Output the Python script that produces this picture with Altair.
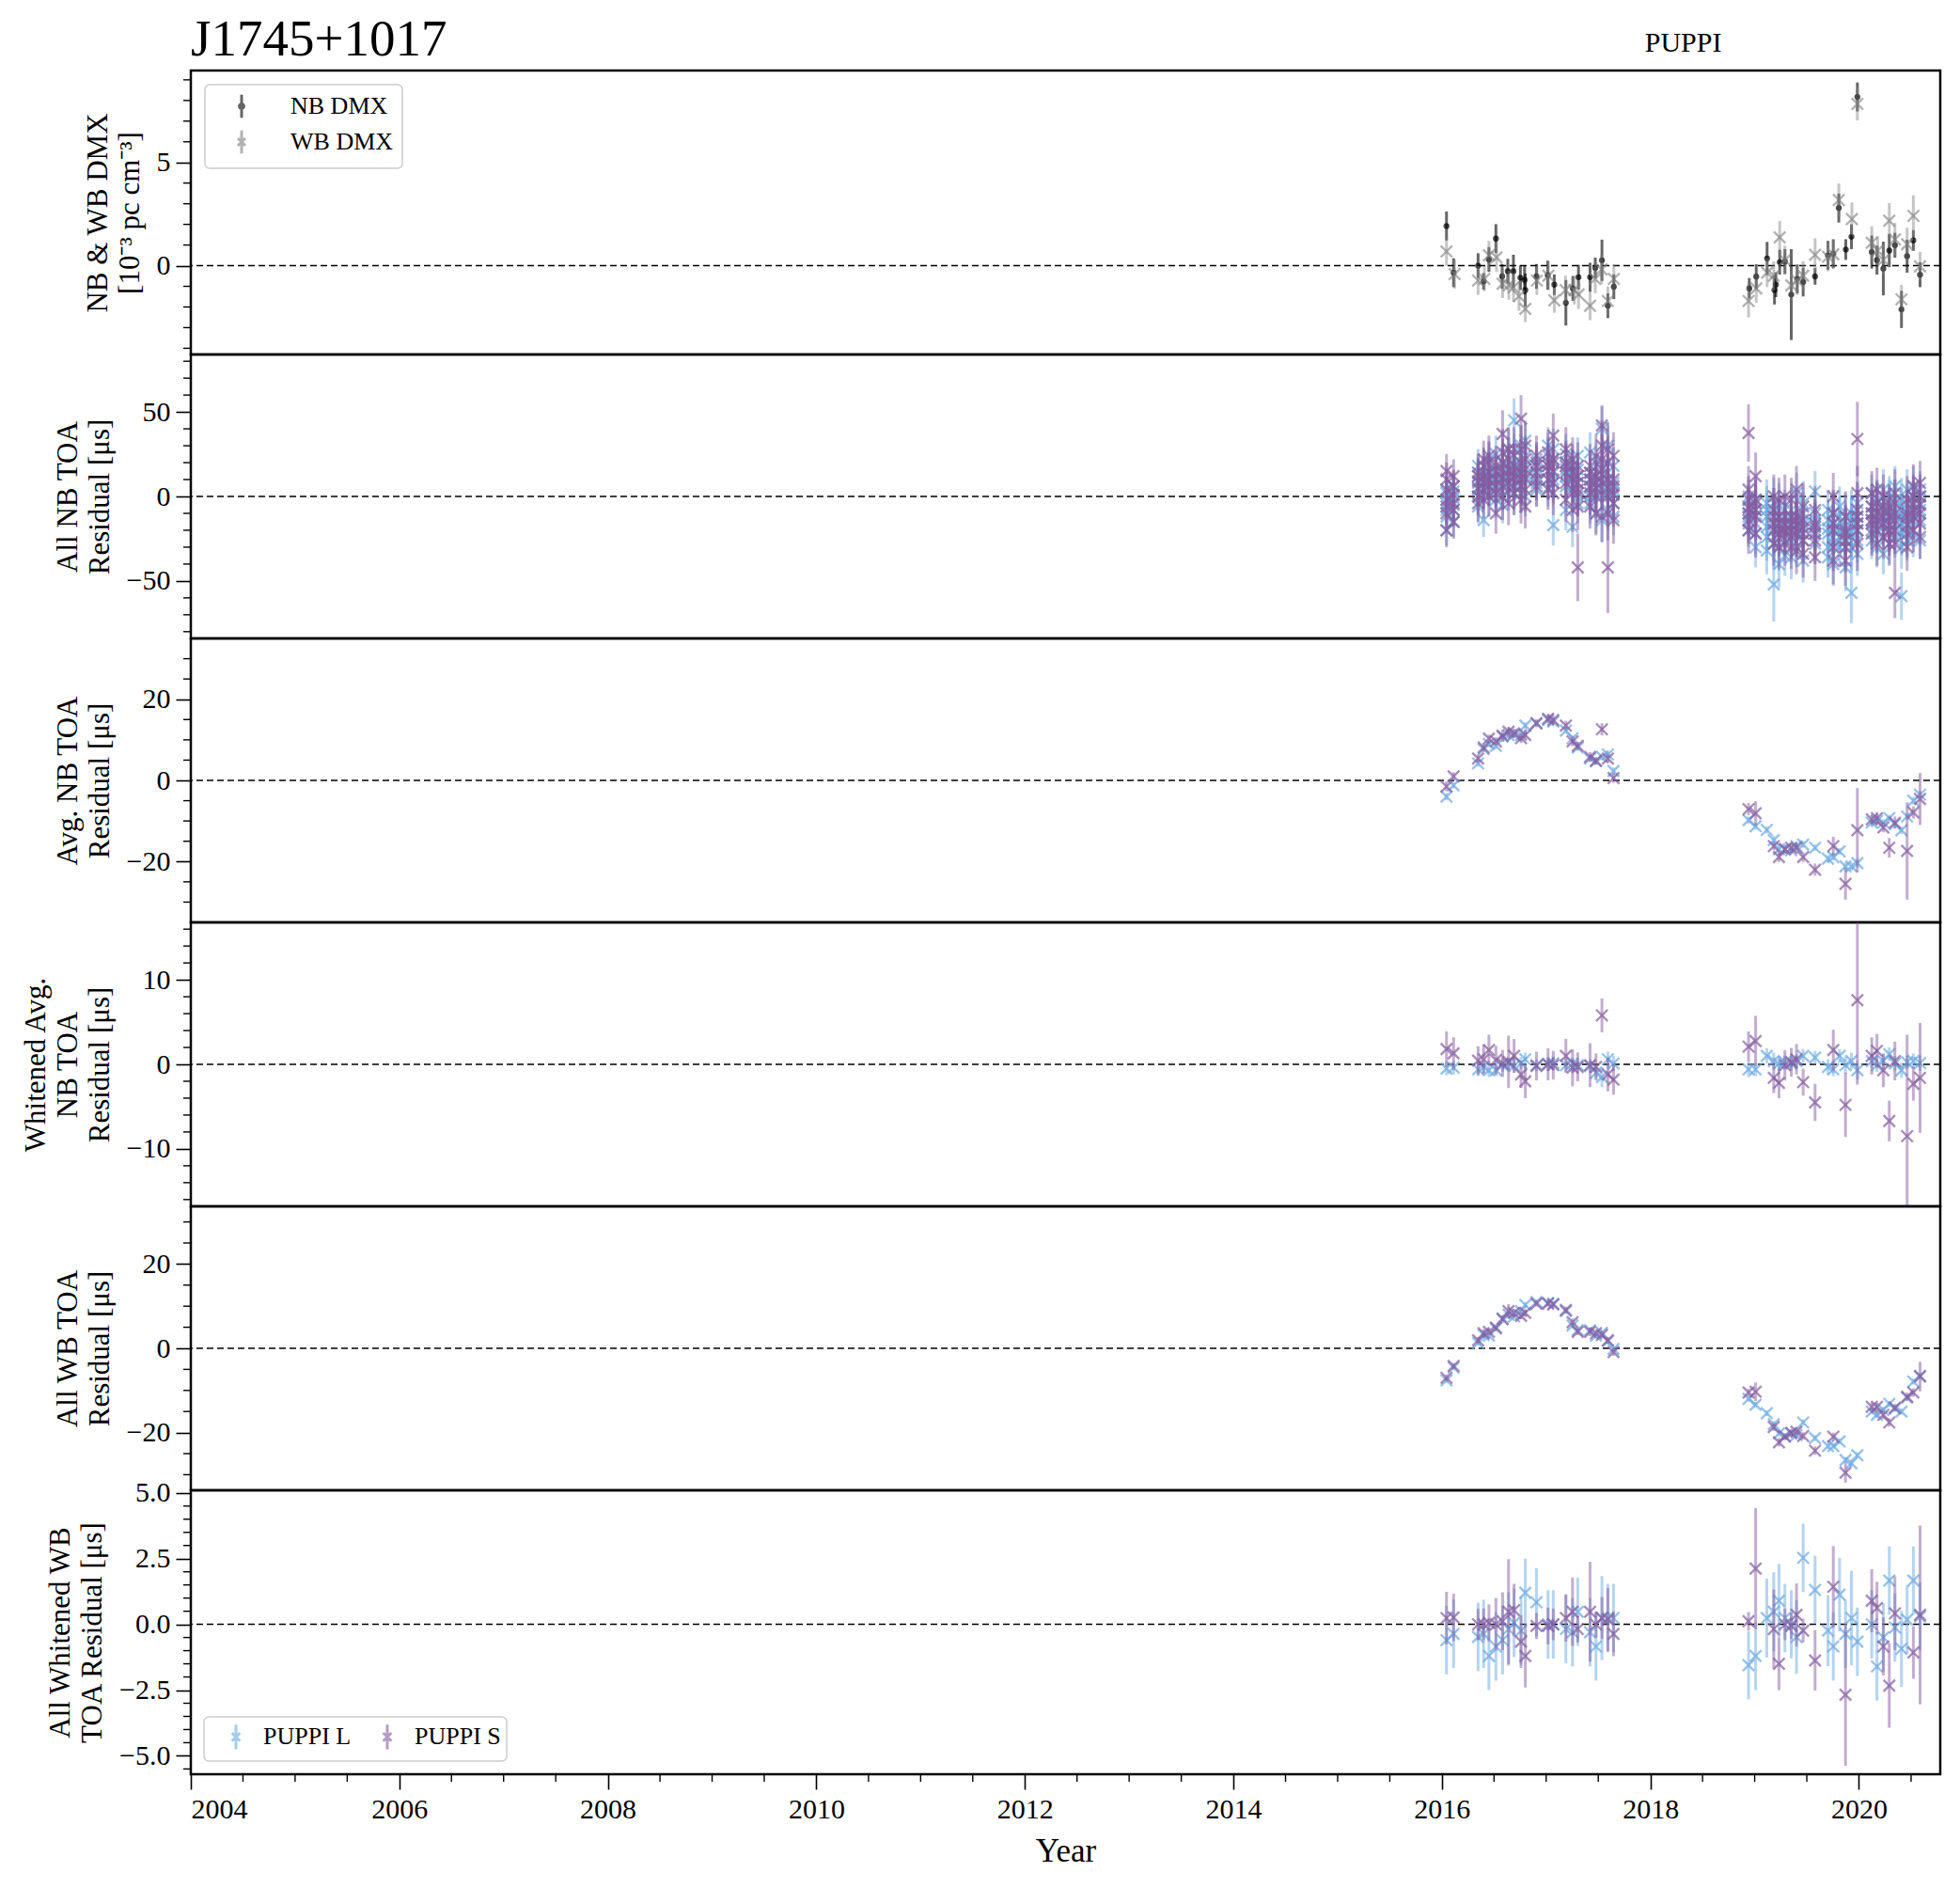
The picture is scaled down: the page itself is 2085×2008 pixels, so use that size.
import altair as alt
import pandas as pd

FONT = "Liberation Serif"
X_MIN, X_MAX = 2004.0, 2020.78
PLOT_W, PANEL_H = 1861, 302
COLOR_L, COLOR_S = "#6BA9E2", "#855CA0"
RCVRS = ["PUPPI L", "PUPPI S"]
DMX_SERIES = ["NB DMX", "WB DMX"]
PSR = "J1745+1017"
BACKEND = "PUPPI"

X_MARK = "M-1,-1L1,1M-1,1L1,-1"
LEG_DOT = "M0,-1V1M0.2,0A0.2,0.2,0,1,1,-0.2,0A0.2,0.2,0,1,1,0.2,0"
LEG_X = "M0,-1V1M-0.33,-0.33L0.33,0.33M-0.33,0.33L0.33,-0.33"

# ---------------- DMX (panel 1) ----------------
NB_DMX_YEAR = [2016.044, 2016.112, 2016.347, 2016.400, 2016.451, 2016.518, 2016.578, 2016.632, 2016.686,
               2016.753, 2016.793, 2016.800, 2016.907, 2017.015, 2017.078, 2017.189, 2017.256, 2017.310,
               2017.421, 2017.471, 2017.535, 2017.592, 2017.649,
               2018.948, 2019.015, 2019.119, 2019.190, 2019.203, 2019.240, 2019.290, 2019.351, 2019.408,
               2019.465, 2019.579, 2019.703, 2019.754, 2019.807, 2019.874, 2019.928, 2019.985, 2020.123,
               2020.173, 2020.234, 2020.291, 2020.345, 2020.408, 2020.462, 2020.522, 2020.586]
NB_DMX_VAL = [1.92, -0.34, 0.0, -0.76, 0.30, 1.31, -0.52, -0.27, -0.27, -0.58, -0.69, -1.18, -0.52, -0.46,
              -0.92, -1.80, -1.10, -0.56, -0.56, -0.11, 0.26, -1.94, -1.02,
              -1.10, -0.53, 0.35, -1.18, -0.92, 0.17, 0.20, -1.40, -0.64, -0.79, -0.52, 0.50, 0.58, 2.79,
              0.78, 1.40, 8.17, 0.66, 0.27, -0.14, 0.73, 0.99, -2.12, 0.46, 1.22, -0.44]
NB_DMX_ERR = [0.7, 0.7, 0.6, 0.4, 0.6, 0.7, 0.6, 0.6, 0.8, 0.6, 0.7, 0.8, 0.6, 0.7, 0.5, 1.1, 0.6, 0.6,
              0.7, 0.5, 1.0, 0.6, 0.6,
              0.5, 0.6, 0.8, 0.7, 0.6, 0.6, 0.6, 2.2, 0.7, 0.7, 0.4, 0.7, 0.7, 0.7, 0.5, 0.6, 0.7, 0.8,
              0.7, 1.3, 0.8, 0.6, 0.9, 0.8, 0.5, 0.6]
WB_DMX_YEAR = [2016.044, 2016.122, 2016.347, 2016.407, 2016.451, 2016.524, 2016.582, 2016.642, 2016.686,
               2016.739, 2016.800, 2016.911, 2017.021, 2017.078, 2017.186, 2017.270, 2017.310, 2017.421,
               2017.471, 2017.532, 2017.592, 2017.649,
               2018.941, 2019.015, 2019.119, 2019.183, 2019.240, 2019.290, 2019.351, 2019.408, 2019.465,
               2019.579, 2019.703, 2019.754, 2019.807, 2019.932, 2019.985, 2020.123, 2020.180, 2020.234,
               2020.291, 2020.345, 2020.408, 2020.462, 2020.522, 2020.586]
WB_DMX_VAL = [0.69, -0.41, -0.72, -0.64, 0.50, 0.40, -0.87, -0.95, -1.05, -1.48, -2.09, -0.72, -0.49,
              -1.68, -1.18, -1.18, -1.40, -1.94, -0.64, -0.18, -1.71, -0.64,
              -1.71, -1.10, -0.34, -0.49, 1.37, 0.27, -0.95, -0.72, -0.49, 0.53, 0.43, 0.55, 3.18, 2.26,
              7.83, 1.11, 0.73, 0.27, 2.18, 1.27, -1.63, 1.04, 2.41, -0.03]
WB_DMX_ERR = [0.7, 0.7, 0.7, 0.6, 0.7, 0.7, 0.7, 0.7, 0.7, 0.7, 0.65, 0.7, 0.7, 0.6, 0.7, 0.7, 0.7, 0.7,
              0.7, 0.7, 0.7, 0.7,
              0.8, 0.7, 0.7, 0.7, 0.8, 0.7, 0.7, 0.7, 0.7, 0.8, 0.7, 0.7, 0.8, 0.8, 0.8, 0.8, 0.7, 0.7,
              0.85, 0.8, 0.7, 0.8, 1.0, 0.7]

# ---------------- Epochs for TOA panels ----------------
EPOCHS = [2016.044, 2016.112, 2016.347, 2016.400, 2016.451, 2016.518, 2016.582, 2016.639, 2016.692,
          2016.759, 2016.800, 2016.907, 2017.018, 2017.068, 2017.189, 2017.253, 2017.303, 2017.421,
          2017.478, 2017.535, 2017.592, 2017.646,
          2018.941, 2019.009, 2019.116, 2019.183, 2019.233, 2019.290, 2019.351, 2019.401, 2019.465,
          2019.579, 2019.703, 2019.754, 2019.814, 2019.871, 2019.928, 2019.985, 2020.123, 2020.173,
          2020.234, 2020.291, 2020.345, 2020.408, 2020.462, 2020.522, 2020.586]

# Panel 2: all NB TOA residuals (us), several TOAs per epoch
NB_ALL_L = [[-4, -12, 3, -20, -8, 2], [-1, -8, 6, -15, 3, -5], [4, -6, 12, 18, 8, 0], [8, -14, 14, 2, 10, 5],
            [9, 0, 16, 22, 6, 12], [8, -2, 15, 25, 12, 4], [11, 3, 20, -5, 14, 8], [11, 28, 4, 18, 8, 14],
            [11, 20, 2, 16, 8, 24], [11, 30, 6, 18, 14, 2], [13, 24, 0, 33, 10, 18], [14, 22, 8, 18, 12, 4],
            [15, 30, 5, 24, 18, 10], [14, -17, 22, 8, 10, 28], [12, -8, 20, 25, 6, 16], [10, 2, 16, -18, 12, 6],
            [8, 16, 0, 24, 12, -4], [5, 26, -4, 14, 10, 0], [5, 20, -10, 12, 8, 2], [6, 40, -14, 18, 10, 0],
            [6, 30, -8, 14, 2, 10], [2, 18, -12, 8, -4, 4],
            [-10, -20, 0, -16, -6, -12], [-11, -2, -22, -30, -16, -8], [-12, -4, -24, -32, -18, -8],
            [-15, -28, -4, -20, -10, -24], [-17, -40, -6, -30, -12, -22], [-17, -24, -8, -35, -14, -20],
            [-17, -12, -26, -36, -20, -8], [-16, 2, -30, -24, -12, -20], [-16, -4, -26, -38, -18, -10],
            [-17, -10, 3, -28, -20, -14], [-19, -8, -30, -36, -22, -14], [-19, -10, -28, -40, -16, -24],
            [-18, -6, -30, -24, -12, -20], [-21, -30, -12, -42, -18, -26], [-21, -10, -30, -14, -24, -18],
            [-20, -4, -34, -26, -16, -12], [-10, 2, -20, -26, -14, -6], [-10, -2, -22, -30, -16, -4],
            [-10, 4, -18, -34, -6, -14], [-9, 0, -20, -28, -12, -4], [-11, -2, -24, 6, -16, -8],
            [-12, -2, -22, -30, -8, -16], [-9, 4, -20, -26, -14, -4], [-5, 6, -14, -24, -10, 0],
            [-4, 4, -14, -26, -8, 0]]
NB_ALL_L_ERR = [9, 9, 10, 10, 11, 11, 11, 12, 13, 12, 12, 10, 11, 12, 12, 12, 11, 12, 12, 13, 12, 11,
                10, 12, 14, 15, 14, 12, 13, 12, 13, 12, 12, 13, 12, 14, 14, 13, 11, 12, 12, 12, 12, 13,
                12, 12, 11]
NB_ALL_S = [[-2, 10, -10, 15, -20, -6, 4], [1, 12, -8, -15, -4, 6], [5, 14, -4, 12, 0, 9], [8, 18, -2, 22, 4, 12],
            [10, 20, 0, 24, 6, 14], [10, -10, 18, 2, 6, 14], [11, 0, 20, 26, 6, 16], [12, 22, -4, 28, 8, 16],
            [12, 28, 2, 14, 6, 18], [10, -2, 20, 28, 6, 14], [11, 30, -6, 22, 4, 16], [14, 24, 6, 20, 10, 18],
            [15, 26, 4, 20, 10, 18], [15, 36, 2, 22, 8, 20], [14, 28, -2, 20, 8, 18], [10, 22, -8, 18, 4, 14],
            [8, 18, 2, -6, 12, 4], [6, 18, -6, 14, 2, 10], [5, 24, -10, 12, 0, 8], [13, -12, 22, 30, 8, 16],
            [5, 20, -10, 28, 0, 10], [1, 24, -14, 10, -4, 6],
            [-7, -14, 4, -20, -10, -2], [-8, 12, -22, -2, -12, -4], None, [-16, 0, -28, -8, -20, -12],
            [-19, -2, -30, -12, -22, -16], [-17, 0, -28, -22, -20, -12], [-17, -2, -30, -24, -20, -12],
            [-17, 4, -32, -12, -22, -14], [-19, -6, -34, -26, -22, -14], [-22, -8, -36, -16, -26, -18], None,
            [-16, 0, -30, -38, -20, -10], None, [-26, -12, -38, -20, -30, -22], None,
            [-12, -28, -16, 2, -20, -8], [-10, 2, -22, -16, -14, -6], [-9, 4, -20, -28, -14, -4],
            [-12, 0, -24, -8, -16, -6], [-17, -6, -28, -20, -22, -12], [-10, 2, -20, -28, -14, -4], None,
            [-17, -2, -30, -10, -22, -12], [-8, 6, -20, 0, -12, -4], [-5, 8, -16, -24, -10, 0]]
NB_ALL_S_ERR = [10, 10, 11, 11, 12, 12, 14, 13, 13, 14, 13, 12, 12, 13, 13, 13, 14, 13, 13, 15, 16, 14,
                14, 14, None, 13, 13, 13, 13, 14, 14, 14, None, 14, None, 15, None, 16, 13, 13, 13, 13,
                14, None, 14, 13, 13]
NB_ALL_OUT_YEAR = [2016.692, 2019.183, 2019.928, 2020.408, 2016.582, 2016.759, 2017.303, 2017.535,
                   2017.592, 2018.941, 2019.985, 2020.345]
NB_ALL_OUT_RCVR = ["PUPPI L", "PUPPI L", "PUPPI L", "PUPPI L", "PUPPI S", "PUPPI S", "PUPPI S",
                   "PUPPI S", "PUPPI S", "PUPPI S", "PUPPI S", "PUPPI S"]
NB_ALL_OUT_VAL = [45, -52, -57, -59, 37, 46, -42, 42, -42, 37.5, 34, -57]
NB_ALL_OUT_ERR = [13, 22, 18, 14, 14, 14, 20, 12, 27, 17, 22, 15]

# Panel 3: averaged NB residuals
AVG_NB_L = [-4.0, -1.2, 4.2, 7.7, 9.0, 8.5, 10.8, 11.2, 11.3, 11.2, 13.5, 14.1, 14.9, 14.5, 12.3, 10.4,
            8.1, 5.4, 4.8, 5.8, 6.4, 2.3,
            -9.8, -11.3, -12.2, -14.7, -17.0, -17.0, -17.2, -16.2, -15.8, -16.6, -19.3, -18.9, -17.5,
            -21.2, -21.2, -20.4, -10.4, -10.0, -10.4, -9.3, -10.8, -12.3, -8.9, -5.0, -3.5]
AVG_NB_L_ERR = [0.9, 0.8, 0.8, 0.7, 0.8, 0.7, 0.8, 0.7, 0.8, 0.7, 0.8, 0.7, 0.7, 0.8, 0.8, 0.7, 0.8,
                0.8, 0.7, 0.8, 0.9, 0.9,
                0.9, 0.8, 0.9, 1.0, 0.9, 0.8, 0.8, 0.8, 0.8, 0.8, 0.9, 0.8, 0.8, 1.0, 1.0, 1.1, 0.8,
                0.8, 0.8, 0.8, 0.9, 0.9, 0.8, 0.9, 0.9]
AVG_NB_S = [-1.5, 1.0, 5.4, 8.1, 10.3, 9.6, 11.0, 12.0, 11.6, 10.4, 11.2, 14.1, 15.2, 14.9, 13.5, 9.6,
            8.5, 5.8, 4.8, 12.6, 5.4, 0.6,
            -7.1, -8.1, None, -16.2, -18.9, -17.0, -16.6, -16.6, -18.9, -22.0, None, -16.2, None,
            -25.5, None, -12.3, -9.6, -9.3, -11.6, -16.6, -10.4, None, -17.4, -7.9, -4.6]
AVG_NB_S_ERR = [1.2, 1.0, 1.0, 1.0, 1.0, 1.0, 1.5, 1.2, 1.0, 1.2, 1.2, 1.0, 1.0, 1.0, 1.2, 1.2, 1.0,
                1.2, 1.0, 1.5, 1.2, 1.2,
                1.5, 3.0, None, 1.0, 1.2, 1.0, 1.2, 1.0, 1.2, 1.5, None, 2.3, None, 3.9, None, 10.4,
                1.2, 1.5, 1.2, 2.4, 1.5, None, 12.0, 1.5, 6.4]

# Panel 4: whitened averaged NB residuals
WAVG_NB_L = [-0.5, -0.4, -0.6, -0.3, -0.7, -0.7, -0.1, 0.1, -0.2, 0.15, 0.6, -0.1, 0.1, 0.15, -0.1,
             0.1, -0.1, -0.2, -1.0, -1.5, 0.6, 0.1,
             -0.6, -0.6, 1.0, 0.4, 0.1, 0.25, 0.1, 0.4, 1.0, 0.8, -0.3, -0.6, 1.0, -0.1, 0.4, -0.7,
             0.4, -0.1, 0.4, 1.2, 0.1, -0.7, 0.25, 0.4, 0.15]
WAVG_NB_L_ERR = [0.8, 0.8, 0.8, 0.7, 0.8, 0.7, 0.8, 0.7, 0.8, 0.7, 0.8, 0.7, 0.7, 0.8, 0.8, 0.7, 0.8,
                 0.8, 0.7, 1.2, 0.9, 0.9,
                 0.9, 0.8, 0.9, 1.0, 0.9, 0.8, 0.8, 0.8, 0.8, 0.8, 0.9, 0.8, 0.8, 1.0, 1.0, 1.1, 0.8,
                 0.8, 0.8, 0.8, 0.9, 0.9, 0.8, 0.9, 0.9]
WAVG_NB_S = [1.8, 1.3, 0.45, 0.6, 1.7, 0.5, 0.1, 0.3, 1.0, -1.2, -2.0, -0.2, 0.0, -0.1, 1.0, -0.4,
             -0.3, -0.1, -0.3, 5.8, -1.2, -1.8,
             2.1, 2.75, None, -1.6, -2.2, -0.1, 0.25, 0.6, -2.1, -4.5, None, 1.7, None, -4.8, None,
             7.6, 1.0, 1.6, -0.7, -6.7, 0.4, None, -8.5, -2.3, -1.6]
WAVG_NB_S_ERR = [2.1, 1.9, 1.7, 1.7, 1.8, 1.7, 1.6, 3.1, 2.0, 1.6, 2.0, 1.7, 1.9, 1.7, 2.0, 2.2, 1.7,
                 2.6, 1.6, 2.0, 2.0, 1.8,
                 1.8, 3.0, None, 1.8, 1.8, 1.8, 1.7, 1.8, 1.6, 2.2, None, 2.4, None, 3.8, None, 10.0,
                 2.2, 2.0, 2.0, 2.4, 2.3, None, 12.0, 2.0, 6.5]

# Panel 5: all WB residuals
WB_L = [-7.6, -4.6, 1.3, 3.2, 3.0, 4.7, 7.1, 8.0, 7.6, 8.8, 10.3, 11.0, 10.8, 10.6, 8.8, 5.4, 4.3,
        4.3, 3.0, 3.7, 1.7, -0.15,
        -12.0, -13.4, -15.4, -18.0, -20.2, -20.8, -20.2, -20.6, -17.6, -21.3, -23.2, -23.2, -22.1,
        -26.5, -27.3, -25.4, -15.0, -15.8, -14.6, -13.2, -14.3, -15.0, -11.7, -7.9, -6.5]
WB_L_ERR = [0.6, 0.6, 0.6, 0.6, 0.6, 0.6, 0.6, 0.7, 0.6, 0.6, 0.6, 0.6, 0.6, 0.6, 0.6, 0.6, 0.6, 0.6,
            0.6, 0.6, 0.6, 0.6,
            0.7, 0.7, 0.7, 0.7, 0.7, 0.6, 0.6, 0.6, 0.7, 0.7, 0.7, 0.7, 0.7, 0.7, 0.8, 0.7, 0.7, 0.7,
            0.7, 0.7, 0.7, 0.7, 0.7, 0.7, 0.7]
WB_S = [-7.0, -4.2, 1.9, 3.6, 3.9, 4.9, 6.9, 8.8, 8.4, 7.7, 8.4, 10.6, 10.6, 10.4, 9.1, 6.2, 3.9, 3.9,
        3.6, 3.2, 1.9, -0.9,
        -10.5, -10.3, None, -18.7, -22.3, -21.0, -20.1, -19.8, -20.8, -24.3, None, -21.0, None, -29.5,
        None, None, -13.9, -13.9, -15.8, -17.6, -14.1, None, -11.5, -10.5, -6.7]
WB_S_ERR = [0.8, 0.7, 0.8, 0.8, 0.8, 0.8, 0.9, 1.7, 0.9, 0.8, 0.8, 0.7, 0.7, 0.7, 0.8, 0.9, 0.8, 1.0,
            0.7, 0.8, 0.8, 0.9,
            0.9, 2.2, None, 0.9, 1.0, 0.8, 0.8, 0.8, 0.9, 1.0, None, 1.0, None, 2.4, None, None, 1.0,
            0.9, 0.9, 1.0, 0.9, None, 1.0, 1.0, 3.5]

# Panel 6: whitened WB residuals
WWB_L = [-0.6, -0.36, -0.48, -0.36, -1.2, -0.84, -0.6, -0.18, 0.06, -0.24, 1.2, 0.84, 0.0, 0.0, -0.18,
         -0.3, 0.48, -0.3, -0.84, 0.24, 0.24, 0.24,
         -1.55, -1.2, 0.24, 0.48, 0.9, 0.24, 0.0, -0.48, 2.53, 1.31, -0.24, -0.84, 1.13, -0.36, 0.24,
         -0.66, 0.0, -1.6, -0.5, 1.67, -0.12, -0.93, 0.18, 1.67, 0.3]
WWB_L_ERR = [1.3, 1.3, 1.3, 1.3, 1.3, 1.3, 1.3, 1.4, 1.3, 1.3, 1.3, 1.3, 1.3, 1.3, 1.3, 1.3, 1.3, 1.3,
             1.3, 1.6, 1.3, 1.3,
             1.3, 1.3, 1.5, 1.5, 1.4, 1.3, 1.3, 1.4, 1.3, 1.3, 1.35, 1.3, 1.4, 1.3, 1.8, 1.3, 1.3, 1.3,
             1.3, 1.3, 1.3, 1.45, 1.3, 1.3, 1.3]
WWB_S = [0.24, 0.26, 0.0, 0.0, 0.06, 0.0, 0.12, 0.48, 0.54, -0.66, -1.2, -0.06, -0.06, 0.0, 0.24, 0.48,
         -0.18, 0.48, 0.0, 0.24, 0.18, -0.36,
         0.12, 2.12, None, -0.18, -1.5, 0.0, -0.06, 0.36, -0.24, -1.37, None, 1.43, None, -2.68, None,
         None, 0.9, 0.62, -0.84, -2.33, 0.42, None, None, -1.07, 0.36]
WWB_S_ERR = [1.0, 0.9, 0.6, 0.6, 0.7, 1.0, 1.1, 2.0, 1.0, 1.0, 1.2, 0.5, 0.7, 0.6, 0.9, 1.3, 0.5, 1.9,
             0.5, 0.8, 1.2, 0.85,
             0.35, 2.3, None, 1.5, 1.0, 0.6, 0.5, 1.2, 0.45, 1.15, None, 1.55, None, 2.7, None, None,
             1.2, 1.0, 1.1, 1.6, 1.4, None, None, 1.0, 3.4]

# axis ticks
X_MAJOR = [2004, 2006, 2008, 2010, 2012, 2014, 2016, 2018, 2020]
X_MINOR_STEP = 0.5
Y1_MAJOR, Y1_MINOR_STEP = [0, 5], 1
Y2_MAJOR, Y2_MINOR_STEP = [-50, 0, 50], 10
Y3_MAJOR, Y3_MINOR_STEP = [-20, 0, 20], 5
Y4_MAJOR, Y4_MINOR_STEP = [-10, 0, 10], 2
Y5_MAJOR, Y5_MINOR_STEP = [-20, 0, 20], 5
Y6_MAJOR, Y6_MINOR_STEP = [-5.0, -2.5, 0.0, 2.5, 5.0], 0.5


# ---------------- build tables ----------------
def rows_single(years, vals, errs, label, key="rcvr"):
    out = []
    for y, v, e in zip(years, vals, errs):
        if v is None:
            continue
        out.append({"year": y, "val": v, "lo": v - e, "hi": v + e, key: label})
    return out


def epoch_table(lv, le, sv, se):
    return pd.DataFrame(rows_single(EPOCHS, lv, le, "PUPPI L") + rows_single(EPOCHS, sv, se, "PUPPI S"))


dmx_df = pd.DataFrame(rows_single(NB_DMX_YEAR, NB_DMX_VAL, NB_DMX_ERR, "NB DMX", "series")
                      + rows_single(WB_DMX_YEAR, WB_DMX_VAL, WB_DMX_ERR, "WB DMX", "series"))

nb_rows = []
for rc, groups, errs in (("PUPPI L", NB_ALL_L, NB_ALL_L_ERR), ("PUPPI S", NB_ALL_S, NB_ALL_S_ERR)):
    for y, g, e in zip(EPOCHS, groups, errs):
        if g is None:
            continue
        for v in g:
            nb_rows.append({"year": y, "val": v, "lo": v - e, "hi": v + e, "rcvr": rc})
for y, rc, v, e in zip(NB_ALL_OUT_YEAR, NB_ALL_OUT_RCVR, NB_ALL_OUT_VAL, NB_ALL_OUT_ERR):
    nb_rows.append({"year": y, "val": v, "lo": v - e, "hi": v + e, "rcvr": rc})
nb_all_df = pd.DataFrame(nb_rows)

avg_nb_df = epoch_table(AVG_NB_L, AVG_NB_L_ERR, AVG_NB_S, AVG_NB_S_ERR)
wavg_nb_df = epoch_table(WAVG_NB_L, WAVG_NB_L_ERR, WAVG_NB_S, WAVG_NB_S_ERR)
wb_df = epoch_table(WB_L, WB_L_ERR, WB_S, WB_S_ERR)
wwb_df = epoch_table(WWB_L, WWB_L_ERR, WWB_S, WWB_S_ERR)

ZERO = pd.DataFrame({"z": [0.0]})
backend_df = pd.DataFrame({"label": [BACKEND], "year": [(min(EPOCHS) + max(EPOCHS)) / 2]})

x_scale = alt.Scale(domain=[X_MIN, X_MAX], nice=False, zero=False)
MAJ_TICK, MIN_TICK = 16, 8


def minor_values(lo, hi, step, majors):
    n = int(round((hi - lo) / step))
    vals = [round(lo + step * k, 4) for k in range(n + 1)]
    return [v for v in vals if all(abs(v - m) > 1e-9 for m in majors)]


def y_axis(title, majors, fmt):
    return alt.Axis(title=title, values=majors, format=fmt, titleLineHeight=34)


X_AXIS = alt.Axis(title="Year", values=X_MAJOR, format="d", titleFontSize=35, labelFontSize=30,
                  titlePadding=12)


def toa_layers(df, ys, xax, yax):
    layers = []
    for rc, col in ((RCVRS[0], COLOR_L), (RCVRS[1], COLOR_S)):
        base = alt.Chart(df).transform_filter(alt.datum.rcvr == rc)
        layers.append(base.mark_rule(strokeWidth=3, opacity=0.5, clip=True, color=col).encode(
            x=alt.X("year:Q", scale=x_scale, axis=xax),
            y=alt.Y("lo:Q", scale=ys, axis=yax), y2="hi:Q"))
        layers.append(base.mark_point(shape=X_MARK, size=150, strokeWidth=2.4, filled=False,
                                      opacity=0.7, clip=True, color=col).encode(
            x=alt.X("year:Q", scale=x_scale, axis=xax),
            y=alt.Y("val:Q", scale=ys, axis=yax)))
    return layers


def frame_layers(ys, yax, majors, step, lo, hi):
    zero = alt.Chart(ZERO).mark_rule(color="black", strokeDash=[7, 4], strokeWidth=1.5).encode(
        y=alt.Y("z:Q", scale=ys, axis=yax))
    minor_df = pd.DataFrame({"t": minor_values(lo, hi, step, majors)})
    minor = alt.Chart(minor_df).mark_rule(color="black", strokeWidth=1.4).encode(
        y=alt.Y("t:Q", scale=ys, axis=yax), x=alt.value(0), x2=alt.value(-MIN_TICK))
    return [zero, minor]


def x_minor_layer(xax):
    df = pd.DataFrame({"t": minor_values(X_MIN, 2020.5, X_MINOR_STEP, X_MAJOR)})
    return alt.Chart(df).mark_rule(color="black", strokeWidth=1.4).encode(
        x=alt.X("t:Q", scale=x_scale, axis=xax), y=alt.value(PANEL_H), y2=alt.value(PANEL_H + MIN_TICK))


# ---------------- panel 1 ----------------
ys1 = alt.Scale(domain=[-4.3, 9.45], nice=False, zero=False)
yax1 = y_axis(["NB & WB DMX", "[10⁻³ pc cm⁻³]"], Y1_MAJOR, "d")
leg1 = alt.Legend(title=None, orient="top-left", offset=15, direction="vertical", labelFont=FONT,
                  labelFontSize=26, labelColor="black", symbolSize=600, symbolStrokeWidth=3,
                  symbolOpacity=0.6, symbolOffset=16, labelOffset=38, rowPadding=0, padding=9,
                  strokeColor="#cccccc", cornerRadius=5, fillColor="rgba(255,255,255,0.85)",
                  labelLimit=400)
nb = alt.Chart(dmx_df).transform_filter(alt.datum.series == "NB DMX")
wb = alt.Chart(dmx_df).transform_filter(alt.datum.series == "WB DMX")
X1 = alt.X("year:Q", scale=x_scale, axis=None)
p1_layers = frame_layers(ys1, yax1, Y1_MAJOR, Y1_MINOR_STEP, -4, 9) + [
    nb.mark_rule(strokeWidth=3, opacity=0.6, color="black", clip=True).encode(
        x=X1, y=alt.Y("lo:Q", scale=ys1, axis=yax1), y2="hi:Q"),
    nb.mark_circle(size=40, opacity=0.7, color="black", clip=True).encode(
        x=X1, y=alt.Y("val:Q", scale=ys1, axis=yax1)),
    wb.mark_rule(strokeWidth=3, opacity=0.45, color="#808080", clip=True).encode(
        x=X1, y=alt.Y("lo:Q", scale=ys1, axis=yax1), y2="hi:Q"),
    wb.mark_point(shape=X_MARK, size=150, strokeWidth=2.4, filled=False, opacity=0.6,
                  color="#808080", clip=True).encode(
        x=X1, y=alt.Y("val:Q", scale=ys1, axis=yax1)),
    alt.Chart(dmx_df).mark_point(strokeWidth=3, filled=False).encode(
        x=X1, y=alt.Y("val:Q", scale=ys1, axis=yax1),
        color=alt.Color("series:N", scale=alt.Scale(domain=DMX_SERIES, range=["black", "#808080"]),
                        legend=leg1),
        shape=alt.Shape("series:N", scale=alt.Scale(domain=DMX_SERIES, range=[LEG_DOT, LEG_X]),
                        legend=leg1),
        opacity=alt.value(0)),
    alt.Chart(backend_df).mark_text(font=FONT, fontSize=30, baseline="alphabetic", color="black").encode(
        x=X1, y=alt.value(-20), text="label:N"),
]
p1 = alt.layer(*p1_layers).properties(
    width=PLOT_W, height=PANEL_H,
    title=alt.TitleParams(PSR, anchor="start", frame="group", fontSize=55, font=FONT,
                          fontWeight="normal", color="black", offset=-40))


# ---------------- panels 2-6 ----------------
def toa_panel(df, dom, title, majors, step, lo, hi, fmt):
    ys = alt.Scale(domain=dom, nice=False, zero=False)
    yax = y_axis(title, majors, fmt)
    return alt.layer(*frame_layers(ys, yax, majors, step, lo, hi),
                     *toa_layers(df, ys, None, yax)).properties(width=PLOT_W, height=PANEL_H)


p2 = toa_panel(nb_all_df, [-84, 84], ["All NB TOA", "Residual [μs]"], Y2_MAJOR, Y2_MINOR_STEP, -80, 80, "d")
p3 = toa_panel(avg_nb_df, [-35, 35], ["Avg. NB TOA", "Residual [μs]"], Y3_MAJOR, Y3_MINOR_STEP, -30, 30, "d")
p4 = toa_panel(wavg_nb_df, [-16.8, 16.8], ["Whitened Avg.", "NB TOA", "Residual [μs]"], Y4_MAJOR,
               Y4_MINOR_STEP, -16, 16, "d")
p5 = toa_panel(wb_df, [-33.7, 33.7], ["All WB TOA", "Residual [μs]"], Y5_MAJOR, Y5_MINOR_STEP, -30, 30, "d")

ys6 = alt.Scale(domain=[-5.7, 5.1], nice=False, zero=False)
yax6 = y_axis(["All Whitened WB", "TOA Residual [μs]"], Y6_MAJOR, ".1f")
leg6 = alt.Legend(title=None, orient="bottom-left", offset=14, direction="horizontal", labelFont=FONT,
                  labelFontSize=26, labelColor="black", symbolSize=700, symbolStrokeWidth=3,
                  symbolOpacity=0.6, symbolOffset=13, labelOffset=14, columnPadding=10, padding=6,
                  strokeColor="#cccccc", cornerRadius=5, fillColor="rgba(255,255,255,0.85)",
                  labelLimit=400)
p6_legend = alt.Chart(wwb_df).mark_point(strokeWidth=3, filled=False).encode(
    x=alt.X("year:Q", scale=x_scale, axis=X_AXIS), y=alt.Y("val:Q", scale=ys6, axis=yax6),
    color=alt.Color("rcvr:N", scale=alt.Scale(domain=RCVRS, range=[COLOR_L, COLOR_S]), legend=leg6),
    shape=alt.Shape("rcvr:N", scale=alt.Scale(domain=RCVRS, range=[LEG_X, LEG_X]), legend=leg6),
    opacity=alt.value(0))
p6 = alt.layer(*frame_layers(ys6, yax6, Y6_MAJOR, Y6_MINOR_STEP, -5.5, 5.0),
               *toa_layers(wwb_df, ys6, X_AXIS, yax6), x_minor_layer(X_AXIS), p6_legend).properties(
    width=PLOT_W, height=PANEL_H)

chart = alt.vconcat(p1, p2, p3, p4, p5, p6, spacing=0, bounds="flush").resolve_scale(
    color="independent", shape="independent").properties(
    padding={"left": 12, "right": 5, "top": 5, "bottom": 5}).configure(font=FONT).configure_view(
    stroke="black", strokeWidth=2.5).configure_legend(strokeWidth=1.5).configure_axis(
    tickSize=MAJ_TICK, tickWidth=1.6, tickColor="black", domain=False, grid=False, labelOverlap=False,
    labelFont=FONT, labelFontSize=30, labelColor="black", labelPadding=6, titleFont=FONT,
    titleFontSize=31, titleFontWeight="normal", titleColor="black", titlePadding=12)

chart.save("out.html", embed_options={"renderer": "svg", "actions": False})
